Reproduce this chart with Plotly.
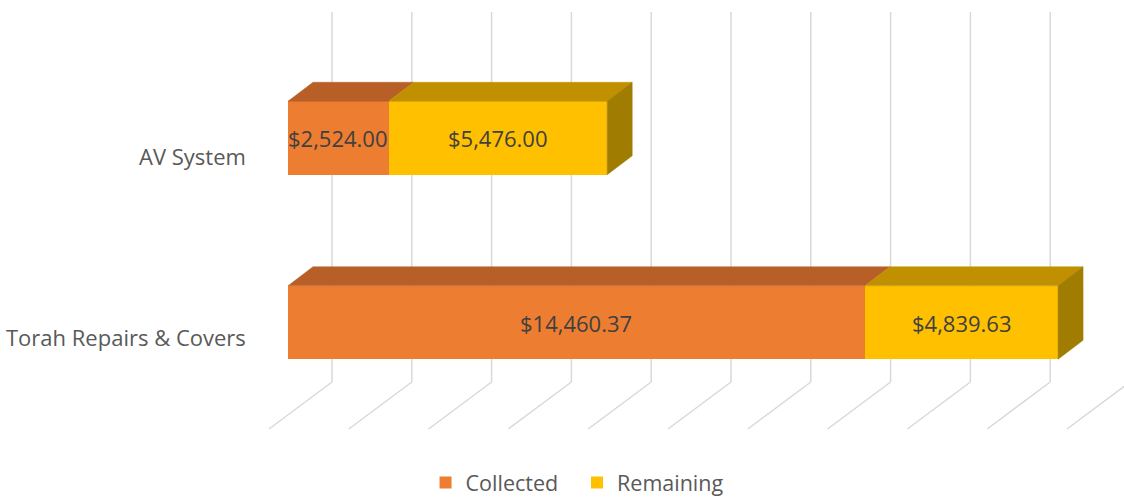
import plotly.graph_objects as go

# ---- data ----
categories = ["AV System", "Torah Repairs & Covers"]
collected = [2524.00, 14460.37]
remaining = [5476.00, 4839.63]
series_names = ["Collected", "Remaining"]
grid_values = list(range(0, 20001, 2000))

# ---- styling / layout constants ----
W, H = 1124, 497
PX_PER_UNIT = 0.0399          # horizontal pixels per dollar
ZERO_PX = 288                 # pixel x of value 0 on bar front
ROW_CENTER = [138, 322.5]     # pixel y of bar front-face centers
LABEL_SHIFT = [18, 14.5]      # category label offset below bar centre
BAR_THICK = 73.5
DEPTH_DX = 25 / PX_PER_UNIT   # 3D depth offset (in value units)
DEPTH_DY = 19                 # 3D depth offset (pixels)
WALL_DX = 44 / PX_PER_UNIT
FLOOR_DX = 63 / PX_PER_UNIT
GRID_TOP, GRID_BOTTOM, FLOOR_FRONT = 12, 382, 429

front_colors = ["#ED7D31", "#FFC000"]
top_colors = ["#B85F28", "#C09000"]
side_colors = ["#B04F10", "#A07D00"]
label_color = "#404040"
axis_text_color = "#595959"
grid_color = "#D9D9D9"
FONT = "Open Sans, Liberation Sans, sans-serif"

xmin = -ZERO_PX / PX_PER_UNIT
xmax = (W - ZERO_PX) / PX_PER_UNIT

fig = go.Figure()

# front faces (real bars)
series = [collected, remaining]
for name, vals, col in zip(series_names, series, front_colors):
    fig.add_trace(go.Bar(
        y=ROW_CENTER, x=vals, orientation="h", name=name,
        width=BAR_THICK, marker=dict(color=col, line=dict(width=0)),
        hoverinfo="x+name",
    ))

# top & side faces computed from the data
for i, cat in enumerate(categories):
    top = ROW_CENTER[i] - BAR_THICK / 2
    bottom = ROW_CENTER[i] + BAR_THICK / 2
    start = 0
    for j, vals in enumerate(series):
        end = start + vals[i]
        fig.add_trace(go.Scatter(
            x=[start, start + DEPTH_DX, end + DEPTH_DX, end, start],
            y=[top, top - DEPTH_DY, top - DEPTH_DY, top, top],
            fill="toself", fillcolor=top_colors[j], mode="lines",
            line=dict(color=top_colors[j], width=0.5),
            showlegend=False, hoverinfo="skip",
        ))
        # value label
        fig.add_annotation(
            x=(start + end) / 2, y=ROW_CENTER[i], xref="x", yref="y",
            text="${:,.2f}".format(vals[i]), showarrow=False,
            font=dict(family=FONT, size=22, color=label_color),
        )
        start = end
    # side face of the final segment
    fig.add_trace(go.Scatter(
        x=[start, start + DEPTH_DX, start + DEPTH_DX, start, start],
        y=[top, top - DEPTH_DY, bottom - DEPTH_DY, bottom, top],
        fill="toself", fillcolor=side_colors[-1], mode="lines",
        line=dict(color=side_colors[-1], width=0.5),
        showlegend=False, hoverinfo="skip",
    ))
    # category label
    fig.add_annotation(
        x=xmin + 248 / PX_PER_UNIT, y=ROW_CENTER[i] + LABEL_SHIFT[i],
        xref="x", yref="y",
        xanchor="right", text=cat, showarrow=False,
        font=dict(family=FONT, size=22, color=axis_text_color),
    )

# back-wall and floor gridlines
shapes = []
for v in grid_values:
    xw = v + WALL_DX
    shapes.append(dict(type="line", xref="x", yref="y", layer="below",
                       x0=xw, x1=xw, y0=GRID_TOP, y1=GRID_BOTTOM,
                       line=dict(color=grid_color, width=1.5)))
    shapes.append(dict(type="line", xref="x", yref="y", layer="below",
                       x0=xw, x1=xw - FLOOR_DX, y0=GRID_BOTTOM, y1=FLOOR_FRONT,
                       line=dict(color=grid_color, width=1.5)))

fig.update_layout(
    width=W, height=H, barmode="stack",
    margin=dict(l=0, r=0, t=0, b=0, autoexpand=False),
    paper_bgcolor="white", plot_bgcolor="white",
    xaxis=dict(range=[xmin, xmax], visible=False, fixedrange=True),
    yaxis=dict(range=[H, 0], visible=False, fixedrange=True),
    shapes=shapes,
    showlegend=True,
    legend=dict(orientation="h", x=0.3786, xanchor="left", y=-0.012,
                yanchor="bottom", entrywidth=106.5, entrywidthmode="pixels",
                font=dict(family=FONT, size=21.5, color=axis_text_color),
                bgcolor="rgba(0,0,0,0)", traceorder="normal"),
)

fig.write_html(
    "out.html",
    config={"displayModeBar": False},
    post_script="document.body.style.margin='0';document.documentElement.style.overflow='hidden';",
)
